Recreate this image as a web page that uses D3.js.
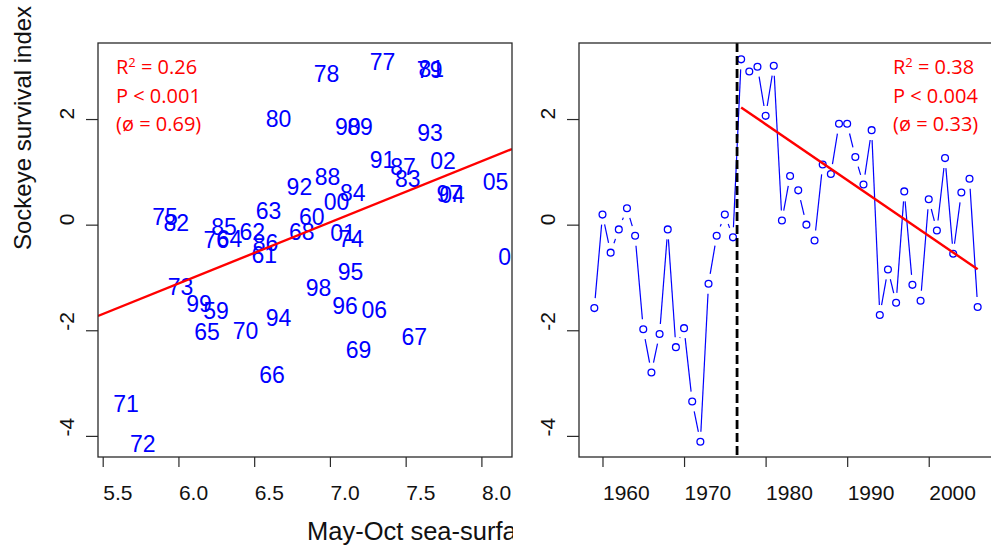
<!DOCTYPE html>
<html>
<head>
<meta charset="utf-8">
<script src="https://cdn.jsdelivr.net/npm/d3@7"></script>
<style>
  html, body { margin: 0; padding: 0; background: #fff; }
  #chart { width: 991px; height: 550px; }
</style>
</head>
<body>
<div id="chart"></div>
<script>
// brood years and the two series
const years = [1959, 1960, 1961, 1962, 1963, 1964, 1965, 1966, 1967, 1968,
  1969, 1970, 1971, 1972, 1973, 1974, 1975, 1976, 1977, 1978,
  1979, 1980, 1981, 1982, 1983, 1984, 1985, 1986, 1987, 1988,
  1989, 1990, 1991, 1992, 1993, 1994, 1995, 1996, 1997, 1998,
  1999, 2000, 2001, 2002, 2003, 2004, 2005, 2006];
const survival = [-1.58, 0.19, -0.53, -0.09, 0.31, -0.21, -1.98, -2.80, -2.07, -0.09,
  -2.32, -1.96, -3.35, -4.11, -1.12, -0.21, 0.19, -0.24, 3.13, 2.90,
  2.99, 2.06, 3.01, 0.08, 0.92, 0.65, 0.00, -0.30, 1.14, 0.96,
  1.91, 1.91, 1.28, 0.76, 1.79, -1.71, -0.85, -1.48, 0.63, -1.14,
  -1.44, 0.48, -0.11, 1.26, -0.55, 0.61, 0.87, -1.56];
const seaTemp = [6.164, 6.796, 6.482, 6.403, 6.510, 6.252, 6.104, 6.533, 7.472, 6.730,
  7.105, 6.359, 5.569, 5.680, 5.930, 7.055, 5.827, 6.166, 7.263, 6.893,
  7.574, 6.576, 7.584, 5.902, 7.430, 7.066, 6.216, 6.491, 7.398, 6.900,
  7.114, 7.033, 7.263, 6.714, 7.576, 6.576, 7.052, 7.015, 7.704, 6.841,
  6.051, 6.959, 7.002, 7.662, 8.111, 7.721, 8.009, 7.208];

const yTicks = [-4, -2, 0, 2];
const tempTicks = [5.5, 6.0, 6.5, 7.0, 7.5, 8.0];
const yearTicks = [1960, 1970, 1980, 1990, 2000];

// regression fits: [intercept, slope]
const leftFit = [-8.057, 1.157];
const rightFit = [211.189, -0.1057];
const rightFitYears = [1977, 2006];
const regimeShift = 1976.5;

const leftStats = ["0.26", "P < 0.001", "(ø = 0.69)"];
const rightStats = ["0.38", "P < 0.004", "(ø = 0.33)"];

window.addEventListener("load", () => {
  const width = 991;
  const height = 550;

  const blue = "#0000ff";
  const red = "#ff0000";
  const axisColor = "#2a2a2a";
  const textColor = "#111";
  const sans = "'Liberation Sans', Arial, sans-serif";
  const statFont = "'Open Sans', 'Noto Sans', sans-serif";

  const top = 43;
  const bottom = 457;
  const leftX0 = 98;
  const leftX1 = 512;
  const rightX0 = 579;
  const rightX1 = 993;

  const svg = d3.select("#chart")
    .append("svg")
    .attr("width", width)
    .attr("height", height)
    .style("font-family", sans);

  const defs = svg.append("defs");
  defs.append("clipPath").attr("id", "clip-left-panel")
    .append("rect").attr("x", 0).attr("y", 0).attr("width", leftX1 + 1).attr("height", height);
  defs.append("clipPath").attr("id", "clip-left-plot")
    .append("rect").attr("x", leftX0).attr("y", top).attr("width", leftX1 - leftX0).attr("height", bottom - top);
  defs.append("clipPath").attr("id", "clip-right-plot")
    .append("rect").attr("x", rightX0).attr("y", top).attr("width", rightX1 - rightX0).attr("height", bottom - top);

  const y = d3.scaleLinear().domain([-4.40, 3.44]).range([bottom, top]);
  const xTemp = d3.scaleLinear().domain([5.469, 8.202]).range([leftX0, leftX1]);
  const xYear = d3.scaleLinear().domain([1957.12, 2007.88]).range([rightX0, rightX1]);

  function styleAxis(g) {
    g.select(".domain").remove();
    g.selectAll(".tick line").attr("stroke", axisColor).attr("stroke-width", 1.2);
    g.selectAll(".tick text")
      .attr("fill", textColor)
      .style("font-family", sans)
      .style("font-size", "21px");
  }

  function bottomAxis(g, scale, ticks, fmt) {
    g.attr("transform", `translate(0,${bottom})`)
      .call(d3.axisBottom(scale).tickValues(ticks).tickFormat(fmt).tickSize(10))
      .call(styleAxis);
    // labels start at the tick (left-anchored, as in the source)
    g.selectAll(".tick text")
      .attr("text-anchor", "start")
      .attr("y", 43)
      .attr("dy", 0);
  }

  function leftAxis(g, x0) {
    g.attr("transform", `translate(${x0},0)`)
      .call(d3.axisLeft(y).tickValues(yTicks).tickFormat(d => String(d)).tickSize(12))
      .call(styleAxis);
    g.selectAll(".tick text")
      .attr("text-anchor", "start")
      .attr("x", 0)
      .attr("y", 0)
      .attr("dy", 0)
      .attr("transform", "translate(-24,0) rotate(-90)");
  }

  function statBlock(g, x, lines) {
    const t = g.append("text")
      .attr("x", x)
      .attr("y", 74)
      .attr("fill", red)
      .style("font-family", statFont)
      .style("font-size", "20px");
    t.append("tspan").text("R");
    t.append("tspan").attr("dy", -7).style("font-size", "13px").text("2");
    t.append("tspan").attr("dy", 7).text(` = ${lines[0]}`);
    g.append("text")
      .attr("x", x).attr("y", 102.5)
      .attr("fill", red)
      .style("font-family", statFont)
      .style("font-size", "20px")
      .text(lines[1]);
    g.append("text")
      .attr("x", x).attr("y", 130.5)
      .attr("fill", red)
      .style("font-family", statFont)
      .style("font-size", "20px")
      .text(lines[2]);
  }

  // ---- left panel: survival vs sea-surface temperature ----
  const left = svg.append("g").attr("clip-path", "url(#clip-left-panel)");

  left.append("g").call(bottomAxis, xTemp, tempTicks, d3.format(".1f"));
  left.append("g").call(leftAxis, leftX0);

  const leftPlot = left.append("g").attr("clip-path", "url(#clip-left-plot)");

  leftPlot.selectAll(".yr-label")
    .data(years)
    .join("text")
    .attr("class", "yr-label")
    .attr("x", (d, i) => xTemp(seaTemp[i]))
    .attr("y", (d, i) => y(survival[i]))
    .attr("dy", "0.47em")
    .attr("fill", blue)
    .style("font-size", "23px")
    .text(d => String(d).slice(2));

  const tempExtent = xTemp.domain();
  leftPlot.append("line")
    .attr("x1", xTemp(tempExtent[0]))
    .attr("y1", y(leftFit[0] + leftFit[1] * tempExtent[0]))
    .attr("x2", xTemp(tempExtent[1]))
    .attr("y2", y(leftFit[0] + leftFit[1] * tempExtent[1]))
    .attr("stroke", red)
    .attr("stroke-width", 2.4);

  left.append("rect")
    .attr("x", leftX0)
    .attr("y", top)
    .attr("width", leftX1 - leftX0)
    .attr("height", bottom - top)
    .attr("fill", "none")
    .attr("stroke", axisColor)
    .attr("stroke-width", 1.3);

  statBlock(left, 116, leftStats);

  left.append("text")
    .attr("x", 307)
    .attr("y", 540)
    .attr("fill", textColor)
    .style("font-size", "25.5px")
    .text("May-Oct sea-surface temperature (°C)");

  svg.append("text")
    .attr("transform", `translate(31,${(top + bottom) / 2}) rotate(-90)`)
    .attr("fill", textColor)
    .style("font-size", "24px")
    .text("Sockeye survival index");

  // ---- right panel: survival time series ----
  const right = svg.append("g");
  right.append("g").call(bottomAxis, xYear, yearTicks, d3.format("d"));
  right.append("g").call(leftAxis, rightX0);

  const rightPlot = right.append("g").attr("clip-path", "url(#clip-right-plot)");

  const pts = years.map((yr, i) => [xYear(yr), y(survival[i])]);
  const gap = 10;
  const segs = [];
  for (let i = 0; i < pts.length - 1; i++) {
    const [ax, ay] = pts[i];
    const [bx, by] = pts[i + 1];
    const len = Math.hypot(bx - ax, by - ay);
    if (len <= 2 * gap) continue;
    const ux = (bx - ax) / len;
    const uy = (by - ay) / len;
    segs.push([ax + ux * gap, ay + uy * gap, bx - ux * gap, by - uy * gap]);
  }
  rightPlot.selectAll(".seg")
    .data(segs)
    .join("line")
    .attr("class", "seg")
    .attr("x1", d => d[0]).attr("y1", d => d[1])
    .attr("x2", d => d[2]).attr("y2", d => d[3])
    .attr("stroke", blue)
    .attr("stroke-width", 1.2);

  rightPlot.selectAll(".pt")
    .data(pts)
    .join("circle")
    .attr("class", "pt")
    .attr("cx", d => d[0])
    .attr("cy", d => d[1])
    .attr("r", 3.4)
    .attr("fill", "none")
    .attr("stroke", blue)
    .attr("stroke-width", 1.3);

  rightPlot.append("line")
    .attr("x1", xYear(regimeShift)).attr("x2", xYear(regimeShift))
    .attr("y1", top).attr("y2", bottom)
    .attr("stroke", "#000")
    .attr("stroke-width", 2.8)
    .attr("stroke-dasharray", "9,4");

  rightPlot.append("line")
    .attr("x1", xYear(rightFitYears[0]))
    .attr("y1", y(rightFit[0] + rightFit[1] * rightFitYears[0]))
    .attr("x2", xYear(rightFitYears[1]))
    .attr("y2", y(rightFit[0] + rightFit[1] * rightFitYears[1]))
    .attr("stroke", red)
    .attr("stroke-width", 2.4);

  right.append("rect")
    .attr("x", rightX0)
    .attr("y", top)
    .attr("width", rightX1 - rightX0)
    .attr("height", bottom - top)
    .attr("fill", "none")
    .attr("stroke", axisColor)
    .attr("stroke-width", 1.3);

  statBlock(right, 893, rightStats);
});
</script>
</body>
</html>
